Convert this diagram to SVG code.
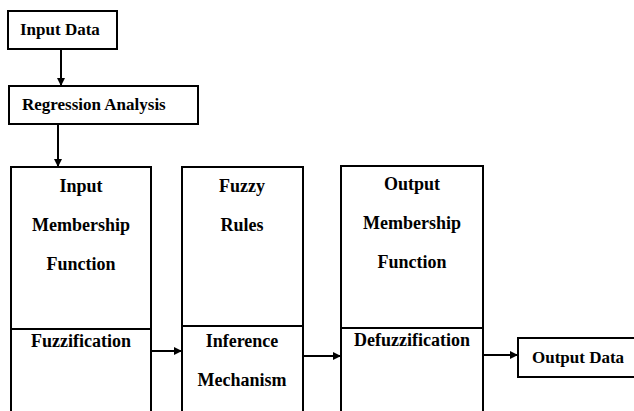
<svg xmlns="http://www.w3.org/2000/svg" width="634" height="411" viewBox="0 0 634 411">
<defs>
<marker id="ah" markerWidth="8" markerHeight="8" refX="7" refY="4" orient="auto" markerUnits="userSpaceOnUse">
<path d="M0,0 L8,4 L0,8 Z" fill="#000"/>
</marker>
<style>
.b, line.div { fill:#fff; stroke:#000; stroke-width:2; }
.c line { stroke:#000; stroke-width:2; marker-end:url(#ah); }
text { font-family:"Liberation Serif","Times New Roman",serif; font-weight:bold; font-size:17px; fill:#000; }
.m { text-anchor:middle; font-size:18px; }
</style>
</defs>
<rect width="634" height="411" fill="#fff"/>
<g id="input-data">
<rect class="b" x="8" y="11" width="109" height="38"/>
<text x="20" y="35">Input Data</text>
</g>
<g id="regression">
<rect class="b" x="9" y="86" width="189" height="38"/>
<text x="22" y="110">Regression Analysis</text>
</g>
<g id="input-mf">
<rect class="b" x="11" y="167" width="140" height="250"/>
<line class="div" x1="11" y1="329" x2="151" y2="329"/>
<text class="m" x="81" y="192">Input</text>
<text class="m" x="81" y="231">Membership</text>
<text class="m" x="81" y="270">Function</text>
<text class="m" x="81" y="347">Fuzzification</text>
</g>
<g id="fuzzy-rules">
<rect class="b" x="182" y="167" width="121" height="250"/>
<line class="div" x1="182" y1="326" x2="303" y2="326"/>
<text class="m" x="242" y="192">Fuzzy</text>
<text class="m" x="242" y="231">Rules</text>
<text class="m" x="242" y="347">Inference</text>
<text class="m" x="242" y="386">Mechanism</text>
</g>
<g id="output-mf">
<rect class="b" x="341" y="166" width="142" height="250"/>
<line class="div" x1="341" y1="328" x2="483" y2="328"/>
<text class="m" x="412" y="190">Output</text>
<text class="m" x="412" y="229">Membership</text>
<text class="m" x="412" y="268">Function</text>
<text class="m" x="412" y="346">Defuzzification</text>
</g>
<g id="output-data">
<rect class="b" x="518" y="338" width="120" height="39"/>
<text x="532" y="363">Output Data</text>
</g>
<g class="c" id="connectors">
<line x1="61" y1="49" x2="61" y2="85"/>
<line x1="58" y1="124" x2="58" y2="166"/>
<line x1="151" y1="351" x2="181" y2="351"/>
<line x1="303" y1="356" x2="340" y2="356"/>
<line x1="483" y1="355" x2="517" y2="355"/>
</g>
</svg>
